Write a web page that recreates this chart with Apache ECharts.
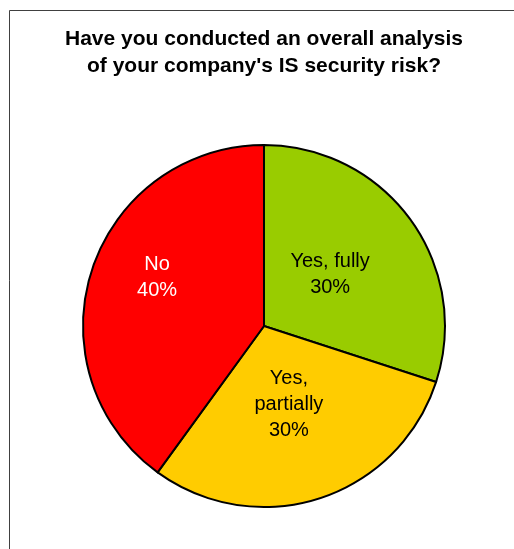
<!DOCTYPE html>
<html>
<head>
<meta charset="utf-8">
<style>
  html, body { margin: 0; padding: 0; background: #fff; }
  #chart { width: 514px; height: 549px; }
</style>
<script src="https://cdn.jsdelivr.net/npm/echarts@6/dist/echarts.min.js"></script>
</head>
<body>
<div id="chart"></div>
<script>
// Survey answers, clockwise from 12 o'clock
const categories = ['Yes, fully', 'Yes, partially', 'No'];
const shares = [30, 30, 40];
// How each answer is written inside its slice
const labelLines = [['Yes, fully'], ['Yes,', 'partially'], ['No']];
const sliceColors = ['#99CC00', '#FFCC00', '#FF0000'];
const labelColors = ['#000000', '#000000', '#FFFFFF'];
// Nudges from the default in-slice label spot
const labelOffsets = [[-9.5, 3], [-4, -10], [-18, -20]];

const chart = echarts.init(document.getElementById('chart'), null, { renderer: 'canvas' });

const data = categories.map((name, i) => ({
  name: name,
  value: shares[i],
  itemStyle: { color: sliceColors[i] },
  label: {
    color: labelColors[i],
    offset: labelOffsets[i],
    formatter: labelLines[i].join('\n') + '\n{c}%'
  }
}));

chart.setOption({
  animation: false,
  backgroundColor: '#ffffff',
  title: {
    text: "Have you conducted an overall analysis\nof your company's IS security risk?",
    left: 264,
    textAlign: 'center',
    top: 26,
    padding: 0,
    textStyle: {
      fontFamily: 'Liberation Sans, Arial, sans-serif',
      fontWeight: 'bold',
      fontSize: 21,
      lineHeight: 27,
      color: '#000000'
    }
  },
  graphic: [{
    type: 'rect',
    shape: { x: 9.5, y: 10.5, width: 700, height: 700 },
    style: { fill: null, stroke: '#404040', lineWidth: 1 },
    silent: true,
    z: -1
  }],
  series: [{
    type: 'pie',
    center: [264, 326],
    radius: [0, 181],
    startAngle: 90,
    clockwise: true,
    avoidLabelOverlap: false,
    itemStyle: { borderColor: '#000000', borderWidth: 2 },
    label: {
      show: true,
      position: 'inside',
      fontFamily: 'Liberation Sans, Arial, sans-serif',
      fontSize: 20,
      lineHeight: 26,
      align: 'center'
    },
    labelLine: { show: false },
    emphasis: { disabled: true },
    data: data
  }]
});
</script>
</body>
</html>
